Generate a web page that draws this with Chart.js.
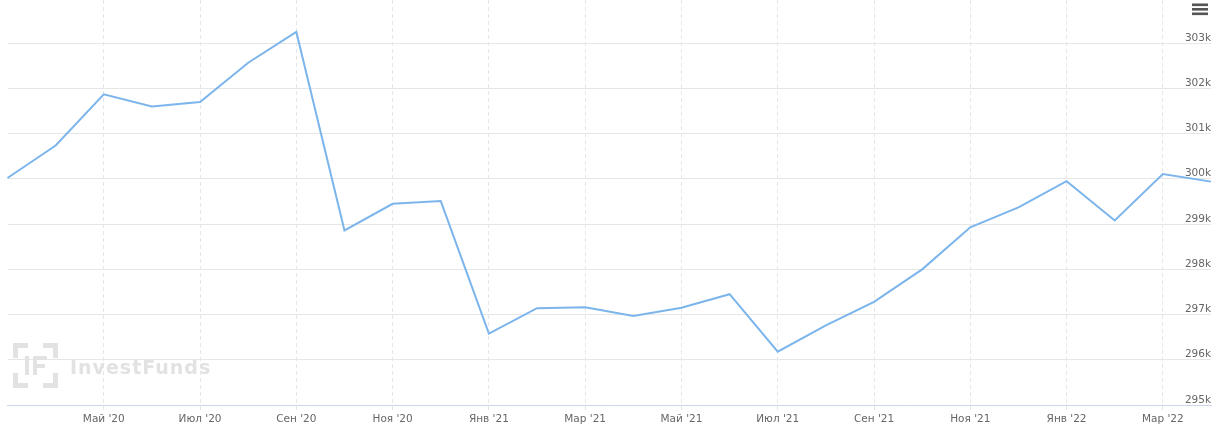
<!DOCTYPE html>
<html>
<head>
<meta charset="utf-8">
<script src="https://cdn.jsdelivr.net/npm/chart.js@4/dist/chart.umd.min.js"></script>
<style>
    html, body { margin: 0; padding: 0; background: #fff; }
    #wrap { width: 1224px; height: 434px; position: relative; }
</style>
</head>
<body>
<div id="wrap"><canvas id="fundChart"></canvas></div>
<script>
const months = ['Мар \'20', 'Апр \'20', 'Май \'20', 'Июн \'20', 'Июл \'20', 'Авг \'20', 'Сен \'20', 'Окт \'20',
    'Ноя \'20', 'Дек \'20', 'Янв \'21', 'Фев \'21', 'Мар \'21', 'Апр \'21', 'Май \'21', 'Июн \'21',
    'Июл \'21', 'Авг \'21', 'Сен \'21', 'Окт \'21', 'Ноя \'21', 'Дек \'21', 'Янв \'22', 'Фев \'22',
    'Мар \'22', 'Апр \'22'];

const values = [300020, 300740, 301870, 301600, 301700, 302570, 303250, 298860,
    299450, 299510, 296580, 297140, 297160, 296970, 297150, 297450,
    296180, 296760, 297280, 298000, 298930, 299370, 299950, 299080,
    300110, 299940];

const yTicks = [295000, 296000, 297000, 298000, 299000, 300000, 301000, 302000, 303000];
const yMin = 295000;
const yMax = 303957;

const gridGray = '#e6e6e6';
const textGray = '#666666';
const labelFont = '10.5px "DejaVu Sans"';

// show every other month, starting at May '20
function isShown(index) {
    return index >= 2 && index % 2 === 0;
}

const yLabelsPlugin = {
    id: 'yLabels',
    afterDraw(chart) {
        const ctx = chart.ctx;
        const y = chart.scales.y;
        ctx.save();
        ctx.font = labelFont;
        ctx.fillStyle = textGray;
        ctx.textAlign = 'right';
        ctx.textBaseline = 'alphabetic';
        yTicks.forEach(v => {
            ctx.fillText((v / 1000) + 'k', chart.chartArea.right, y.getPixelForValue(v) - 2.5);
        });
        // export menu icon
        ctx.fillStyle = '#555';
        [3.5, 8, 12.5].forEach(top => ctx.fillRect(1192, top, 16, 2.6));
        ctx.restore();
    }
};

const watermarkPlugin = {
    id: 'watermark',
    beforeDatasetsDraw(chart) {
        const ctx = chart.ctx;
        ctx.save();
        ctx.fillStyle = '#e2e2e2';
        const x0 = 13, y0 = 343, s = 45, t = 5, arm = 15;
        // corner brackets
        ctx.fillRect(x0, y0, arm, t);
        ctx.fillRect(x0, y0, t, arm);
        ctx.fillRect(x0 + s - arm, y0, arm, t);
        ctx.fillRect(x0 + s - t, y0, t, arm);
        ctx.fillRect(x0, y0 + s - t, arm, t);
        ctx.fillRect(x0, y0 + s - arm, t, arm);
        ctx.fillRect(x0 + s - arm, y0 + s - t, arm, t);
        ctx.fillRect(x0 + s - t, y0 + s - arm, t, arm);
        // I F
        ctx.fillRect(25, 356, 4, 19);
        ctx.fillRect(33, 356, 4, 19);
        ctx.fillRect(33, 356, 14, 4);
        ctx.fillRect(33, 364, 12, 4);
        ctx.font = 'bold 19px "DejaVu Sans"';
        ctx.letterSpacing = '1px';
        ctx.textBaseline = 'alphabetic';
        ctx.fillText('InvestFunds', 70, 374);
        ctx.restore();
    }
};

const ctx = document.getElementById('fundChart').getContext('2d');
new Chart(ctx, {
    type: 'line',
    data: {
        labels: months,
        datasets: [{
            data: values,
            borderColor: '#7cb5ec',
            borderWidth: 2,
            pointRadius: 0,
            pointHoverRadius: 0,
            tension: 0,
            fill: false,
        }],
    },
    options: {
        responsive: true,
        maintainAspectRatio: false,
        animation: false,
        events: [],
        layout: { padding: { left: 7.5, right: 13, top: 0, bottom: 0 } },
        plugins: {
            legend: { display: false },
            tooltip: { enabled: false },
        },
        scales: {
            x: {
                offset: false,
                grid: {
                    color: c => isShown(c.index) ? gridGray : 'rgba(0,0,0,0)',
                    lineWidth: 1,
                    drawTicks: true,
                    tickLength: 5,
                    tickBorderDash: [],
                },
                border: { display: true, color: '#ccd6eb', width: 1, dash: [4, 3] },
                ticks: {
                    autoSkip: false,
                    maxRotation: 0,
                    padding: 3,
                    color: textGray,
                    font: { family: 'DejaVu Sans', size: 10.5 },
                    callback: (value, index) => isShown(index) ? months[index] : '',
                },
                afterFit: s => { s.height = 29; },
            },
            y: {
                position: 'right',
                min: yMin,
                max: yMax,
                afterBuildTicks: s => { s.ticks = yTicks.map(v => ({ value: v })); },
                grid: {
                    color: c => c.tick && c.tick.value === yMin ? 'rgba(0,0,0,0)' : gridGray,
                    lineWidth: 1,
                    drawTicks: false,
                },
                border: { display: false },
                ticks: { display: false },
                afterFit: s => { s.width = 0; },
            },
        },
    },
    plugins: [watermarkPlugin, yLabelsPlugin],
});
</script>
</body>
</html>
